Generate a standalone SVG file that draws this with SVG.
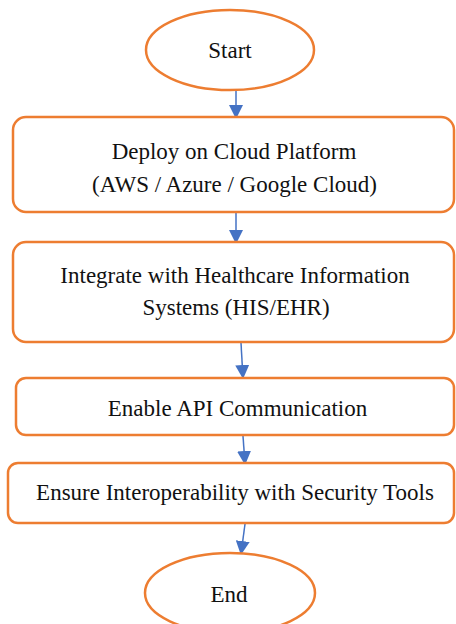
<svg xmlns="http://www.w3.org/2000/svg" width="456" height="624" viewBox="0 0 456 624">
<defs>
<style>
.n{fill:#fff;stroke:#ED7D31;stroke-width:2.5}
.t{font-family:"Liberation Serif","Times New Roman",serif;font-size:23px;fill:#111;text-anchor:middle}
.c{stroke:#4472C4;stroke-width:1.5;fill:none}
</style>
<marker id="ah" markerUnits="userSpaceOnUse" markerWidth="14" markerHeight="14" viewBox="0 0 14 14" refX="13" refY="7" orient="auto">
<path d="M0,0 L14,7 L0,14 z" fill="#4472C4"/>
</marker>
</defs>
<rect width="456" height="624" fill="#fff"/>
<g id="connectors">
<line class="c" x1="236" y1="91" x2="236" y2="118" marker-end="url(#ah)"/>
<line class="c" x1="236" y1="213" x2="236" y2="243" marker-end="url(#ah)"/>
<line class="c" x1="241" y1="343" x2="243" y2="378" marker-end="url(#ah)"/>
<line class="c" x1="243" y1="436" x2="245" y2="464" marker-end="url(#ah)"/>
<line class="c" x1="245" y1="524" x2="241" y2="554" marker-end="url(#ah)"/>
</g>
<g id="start">
<ellipse class="n" cx="230" cy="50" rx="84" ry="40"/>
<text class="t" x="230" y="58">Start</text>
</g>
<g id="deploy">
<rect class="n" x="13" y="117" width="441" height="95" rx="13"/>
<text class="t" x="234" y="159">Deploy on Cloud Platform</text>
<text class="t" x="234.5" y="192">(AWS / Azure / Google Cloud)</text>
</g>
<g id="integrate">
<rect class="n" x="13" y="242" width="441" height="100" rx="13"/>
<text class="t" x="235" y="283">Integrate with Healthcare Information</text>
<text class="t" x="236" y="315">Systems (HIS/EHR)</text>
</g>
<g id="api">
<rect class="n" x="16" y="378" width="438" height="57" rx="10"/>
<text class="t" x="237.5" y="416">Enable API Communication</text>
</g>
<g id="interop">
<rect class="n" x="8" y="463" width="446" height="60" rx="10"/>
<text class="t" x="235" y="500">Ensure Interoperability with Security Tools</text>
</g>
<g id="end">
<ellipse class="n" cx="230" cy="593" rx="85" ry="40"/>
<text class="t" x="229" y="602">End</text>
</g>
</svg>
